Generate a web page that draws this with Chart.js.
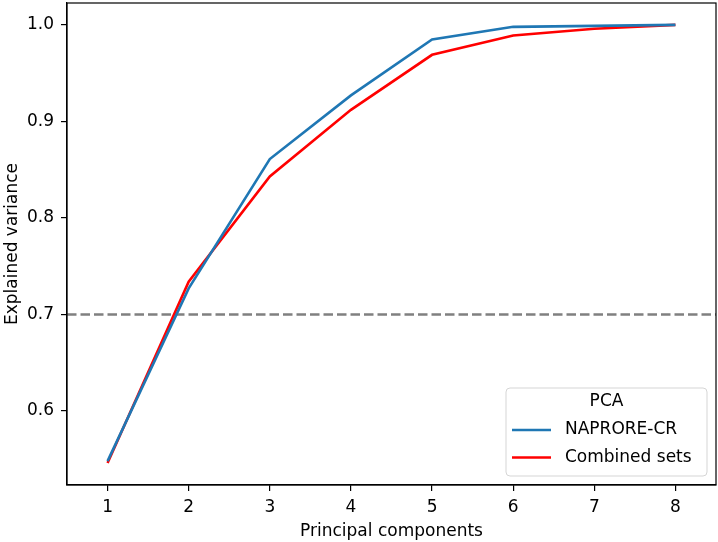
<!DOCTYPE html>
<html>
<head>
<meta charset="utf-8">
<script src="https://cdn.jsdelivr.net/npm/chart.js@4/dist/chart.umd.min.js"></script>
<style>
  html, body { margin: 0; padding: 0; background: #fff; }
  #wrap { width: 718px; height: 542px; }
</style>
</head>
<body>
<div id="wrap"><canvas id="pcaChart" width="718" height="542"></canvas></div>
<script>
// number of principal components
var components = [1, 2, 3, 4, 5, 6, 7, 8];
// cumulative explained variance
var naproreCR = [0.548, 0.727, 0.861, 0.927, 0.985, 0.998, 0.999, 1.0];
var combinedSets = [0.546, 0.734, 0.843, 0.912, 0.969, 0.989, 0.996, 1.0];
var threshold = 0.7;
var xTicks = [1, 2, 3, 4, 5, 6, 7, 8];
var yTicks = [0.6, 0.7, 0.8, 0.9, 1.0];

var FONT = "'DejaVu Sans', sans-serif";
var FS = 17;

function toPoints(ys) {
    return components.map(function (c, i) { return { x: c, y: ys[i] }; });
}

// top and right spines (chart.js only draws the axis borders)
var frame = {
    id: 'frame',
    afterDatasetsDraw: function (chart) {
        var a = chart.chartArea;
        var ctx = chart.ctx;
        ctx.save();
        ctx.strokeStyle = '#000';
        ctx.lineWidth = 1.2;
        ctx.strokeRect(a.left, a.top, a.right - a.left, a.bottom - a.top);
        ctx.restore();
    }
};

// legend drawn inside the plot, lower right
var innerLegend = {
    id: 'innerLegend',
    afterDraw: function (chart) {
        var ctx = chart.ctx;
        var area = chart.chartArea;
        var w = 201, h = 88;
        var x0 = area.right - 9 - w;
        var y0 = area.bottom - 9 - h;
        ctx.save();
        ctx.beginPath();
        ctx.roundRect(x0, y0, w, h, 4);
        ctx.fillStyle = 'rgba(255,255,255,0.8)';
        ctx.fill();
        ctx.strokeStyle = '#d5d5d5';
        ctx.lineWidth = 1;
        ctx.stroke();

        ctx.fillStyle = '#000';
        ctx.font = FS + 'px ' + FONT;
        ctx.textBaseline = 'middle';
        ctx.textAlign = 'center';
        ctx.fillText('PCA', x0 + w / 2, y0 + 14);

        ctx.textAlign = 'left';
        var items = chart.data.datasets.filter(function (d) { return d.label; });
        items.forEach(function (d, i) {
            var y = y0 + 42 + i * 27.5;
            ctx.beginPath();
            ctx.moveTo(x0 + 6, y);
            ctx.lineTo(x0 + 45, y);
            ctx.strokeStyle = d.borderColor;
            ctx.lineWidth = 2.6;
            ctx.stroke();
            ctx.fillText(d.label, x0 + 59, y);
        });
        ctx.restore();
    }
};

var ctx = document.getElementById('pcaChart').getContext('2d');
var pcaChart = new Chart(ctx, {
    type: 'line',
    data: {
        datasets: [{
            label: 'NAPRORE-CR',
            data: toPoints(naproreCR),
            borderColor: '#1f77b4',
            borderWidth: 2.6,
            pointRadius: 0,
            tension: 0
        }, {
            label: 'Combined sets',
            data: toPoints(combinedSets),
            borderColor: '#ff0000',
            borderWidth: 2.6,
            pointRadius: 0,
            tension: 0
        }, {
            label: '',
            data: [{ x: 0.5, y: threshold }, { x: 8.5, y: threshold }],
            borderColor: '#808080',
            borderWidth: 2.6,
            borderDash: [9.5, 4],
            pointRadius: 0
        }]
    },
    options: {
        responsive: false,
        animation: false,
        layout: { padding: { top: 3, right: 2, left: 0, bottom: 0 } },
        plugins: {
            legend: { display: false },
            tooltip: { enabled: false }
        },
        scales: {
            x: {
                type: 'linear',
                min: 0.5,
                max: 8.5,
                afterBuildTicks: function (scale) {
                    scale.ticks = xTicks.map(function (v) { return { value: v }; });
                },
                afterFit: function (scale) {
                    scale.height = 57;
                    scale.paddingLeft = 0;
                    scale.paddingRight = 0;
                },
                grid: { display: true, drawOnChartArea: false, drawTicks: true, tickLength: 6, color: '#000', lineWidth: 1.2 },
                border: { display: true, color: '#000', width: 1.2 },
                ticks: { color: '#000', font: { family: FONT, size: FS }, padding: 6, maxRotation: 0 },
                title: { display: true, text: 'Principal components', color: '#000', font: { family: FONT, size: FS }, padding: { top: 1, bottom: 0 } }
            },
            y: {
                type: 'linear',
                min: 0.5233,
                max: 1.0227,
                afterBuildTicks: function (scale) {
                    scale.ticks = yTicks.map(function (v) { return { value: v }; });
                },
                afterFit: function (scale) {
                    scale.width = 67;
                    scale.paddingTop = 0;
                    scale.paddingBottom = 0;
                },
                grid: { display: true, drawOnChartArea: false, drawTicks: true, tickLength: 6, color: '#000', lineWidth: 1.2 },
                border: { display: true, color: '#000', width: 1.2 },
                ticks: {
                    color: '#000', font: { family: FONT, size: FS }, padding: 7,
                    callback: function (v) { return v.toFixed(1); }
                },
                title: { display: true, text: 'Explained variance', color: '#000', font: { family: FONT, size: FS }, padding: { top: 2, bottom: 0 } }
            }
        }
    },
    plugins: [frame, innerLegend]
});
</script>
</body>
</html>
